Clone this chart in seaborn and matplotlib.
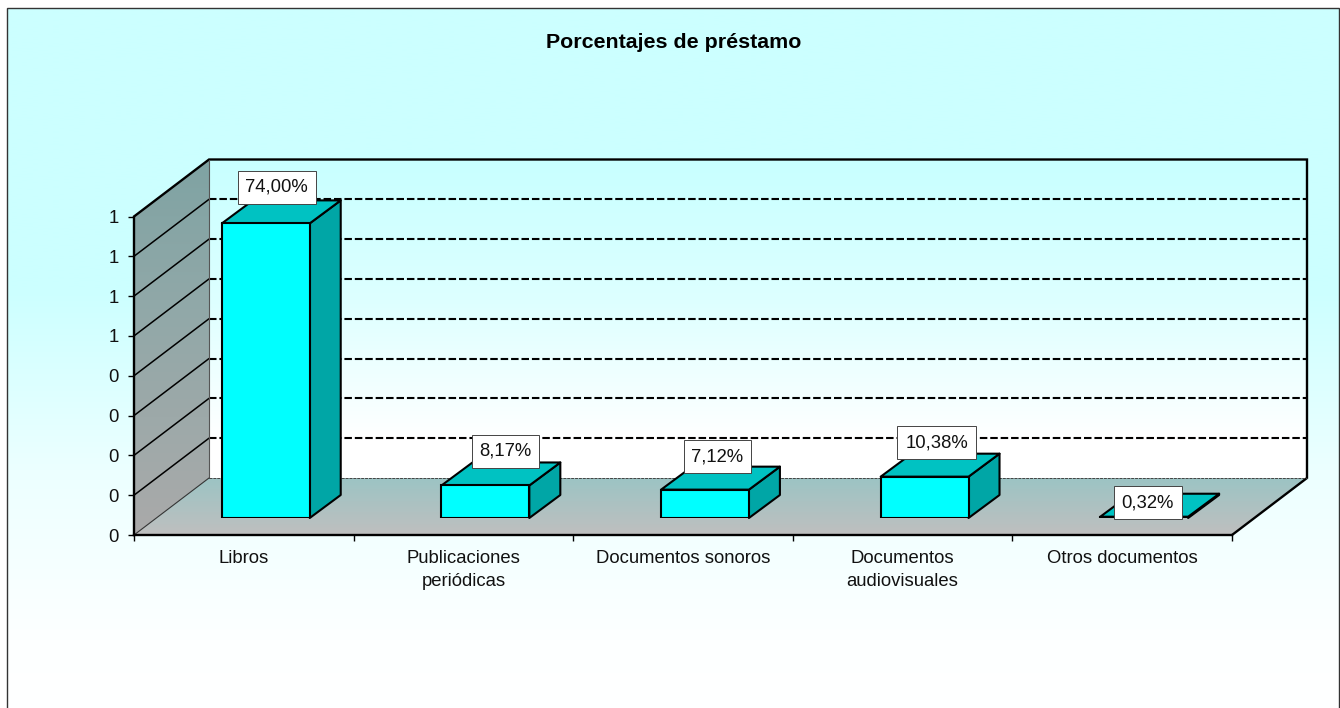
import numpy as np
import pandas as pd
import matplotlib.pyplot as plt
from matplotlib.colors import LinearSegmentedColormap
from matplotlib.patches import Polygon, Rectangle
import seaborn as sns

categories = ["Libros", "Publicaciones\nperiódicas", "Documentos sonoros",
              "Documentos\naudiovisuales", "Otros documentos"]
values = [0.74, 0.0817, 0.0712, 0.1038, 0.0032]
value_labels = ["74,00%", "8,17%", "7,12%", "10,38%", "0,32%"]
y_ticks = [0, 0.1, 0.2, 0.3, 0.4, 0.5, 0.6, 0.7, 0.8]
y_tick_labels = ["0", "0", "0", "0", "0", "1", "1", "1", "1"]
title = "Porcentajes de préstamo"

W, H = 1340, 708
# offsets of the fake 3d, in pixels
wall_dx, wall_dy = 75, 57
bar_dx, bar_dy = 22, 17
depth_dx, depth_dy = 31, 23
label_offsets = [(11, 36), (20, 34), (12.5, 33), (12, 34), (3.5, 14)]

sns.set_style("white")
plt.rcParams['font.family'] = ['Liberation Sans', 'DejaVu Sans']
plt.rcParams['font.size'] = 13.3


def gradient(axis, stops, extent, clip=None):
    # vertical gradient, stops are (pixel from top, colour)
    top, bottom = extent[3], extent[2]
    pos = [float(np.clip((top - (H - s[0])) / (top - bottom), 0, 1)) for s in stops]
    pos[0], pos[-1] = 0.0, 1.0
    cmap = LinearSegmentedColormap.from_list("g", list(zip(pos, [s[1] for s in stops])))
    im = axis.imshow(np.linspace(0, 1, 256).reshape(-1, 1), cmap=cmap, aspect='auto',
                     extent=extent, origin='upper', zorder=1, interpolation='bilinear')
    if clip is not None:
        im.set_clip_path(clip)
    return im


fig = plt.figure(figsize=(W / 100, H / 100), dpi=100, facecolor='white')

# pixel canvas for the panel and the walls, y goes up
bg = fig.add_axes([0, 0, 1, 1])
bg.set_xlim(0, W)
bg.set_ylim(0, H)
bg.axis('off')

# front plane holds the axis, the bars sit further back
ax = fig.add_axes([134 / W, (H - 535) / H, 1098 / W, 318.5 / H], facecolor='none')
ax_bars = fig.add_axes([(134 + bar_dx) / W, (H - 535 + bar_dy) / H, 1098 / W, 318.5 / H],
                       facecolor='none')

df = pd.DataFrame({"categoria": categories, "valor": values})
sns.barplot(data=df, x="categoria", y="valor", ax=ax_bars, color="#00FFFF", saturation=1,
            width=0.4, edgecolor="black", linewidth=1.5, zorder=3)

for a in (ax, ax_bars):
    a.set_xlim(-0.5, len(categories) - 0.5)
    a.set_ylim(0, 0.8)
ax_bars.axis('off')

ax.set_yticks(y_ticks)
ax.set_yticklabels(y_tick_labels, color='#111111')
ax.set_xticks(np.arange(len(categories) + 1) - 0.5)
ax.set_xticklabels([])
ax.set_xticks(np.arange(len(categories)), minor=True)
ax.set_xticklabels(categories, minor=True, linespacing=1.42, color='#111111')
ax.tick_params(axis='y', length=4, width=1, color='black', pad=7, left=True)
ax.tick_params(axis='x', which='major', length=4, width=1, color='black', bottom=True)
ax.tick_params(axis='x', which='minor', length=0, pad=11)
for s in ('top', 'right'):
    ax.spines[s].set_visible(False)
for s in ('left', 'bottom'):
    ax.spines[s].set_linewidth(1.7)
    ax.spines[s].set_color('black')

to_px = ax.transData.transform
x0, y0 = to_px((-0.5, 0))
x1, y1 = to_px((len(categories) - 0.5, 0))
_, y_top = to_px((-0.5, y_ticks[-1]))

# panel
panel = Rectangle((7, -2), W - 8, H - 6, fc='none', ec='#333333', lw=1, zorder=5)
bg.add_patch(panel)
gradient(bg, [(8, "#CCFFFF"), (290, "#CCFFFF"), (470, "#ECFFFF"), (640, "#FDFFFF"), (708, "#FFFFFF")],
         (7, W - 1, 0, H - 8))

# back wall
gradient(bg, [(160, "#C8FFFF"), (300, "#DDFFFF"), (440, "#FFFFFF"), (478, "#FFFFFF")],
         (x0 + wall_dx, x1 + wall_dx, y0 + wall_dy, y_top + wall_dy))

# left wall
left_wall = Polygon([(x0, y0), (x0 + wall_dx, y0 + wall_dy), (x0 + wall_dx, y_top + wall_dy), (x0, y_top)],
                    fc='none', ec='none', transform=bg.transData)
bg.add_patch(left_wall)
gradient(bg, [(160, "#7FA3A3"), (300, "#90A8A8"), (535, "#AAAAAA")],
         (x0, x0 + wall_dx, y0, y_top + wall_dy), clip=left_wall)

# floor
floor = Polygon([(x0, y0), (x1, y1), (x1 + wall_dx, y1 + wall_dy), (x0 + wall_dx, y0 + wall_dy)],
                fc='none', ec='none', transform=bg.transData)
bg.add_patch(floor)
gradient(bg, [(478, "#9CC4C4"), (535, "#BFBFBF")],
         (x0, x1 + wall_dx, y0, y0 + wall_dy), clip=floor)

bg.set_xlim(0, W)
bg.set_ylim(0, H)

# grid: dashed on the back wall, solid on the left one
for t in y_ticks[1:-1]:
    _, y = to_px((-0.5, t))
    bg.plot([x0, x0 + wall_dx], [y, y + wall_dy], color='black', lw=1.1, zorder=4)
    bg.plot([x0 + wall_dx, x1 + wall_dx], [y + wall_dy, y + wall_dy], color='black', lw=1.5,
            dashes=(3.6, 1.4), zorder=4)

# wall outlines
bg.plot([x0, x0 + wall_dx, x1 + wall_dx, x1 + wall_dx, x1],
        [y_top, y_top + wall_dy, y_top + wall_dy, y0 + wall_dy, y0],
        color='black', lw=1.7, zorder=4, solid_joinstyle='miter')
bg.plot([x0 + wall_dx, x0 + wall_dx], [y_top + wall_dy, y0 + wall_dy], color='#555555', lw=0.8, zorder=4)
bg.plot([x0, x0 + wall_dx], [y0, y0 + wall_dy], color='#333333', lw=0.8, zorder=4)
bg.plot([x0 + wall_dx, x1 + wall_dx], [y0 + wall_dy, y0 + wall_dy], color='#444444', lw=0.7,
        dashes=(3, 1), zorder=4)

# side and top of every bar
for bar, text, off in zip(ax_bars.patches, value_labels, label_offsets):
    (bx0, by0), (bx1, by1) = ax_bars.transData.transform(
        [(bar.get_x(), 0), (bar.get_x() + bar.get_width(), bar.get_height())])
    side = [(bx1, by0), (bx1 + depth_dx, by0 + depth_dy), (bx1 + depth_dx, by1 + depth_dy), (bx1, by1)]
    lid = [(bx0, by1), (bx1, by1), (bx1 + depth_dx, by1 + depth_dy), (bx0 + depth_dx, by1 + depth_dy)]
    bg.add_patch(Polygon(side, fc="#00A6A6", ec='black', lw=1.5, zorder=6, joinstyle='round'))
    bg.add_patch(Polygon(lid, fc="#00C2C2", ec='black', lw=1.5, zorder=6, joinstyle='round'))
    ax_bars.annotate(text, (bar.get_x() + bar.get_width() / 2, bar.get_height()),
                     xytext=off, textcoords='offset pixels', ha='center', va='center',
                     color='#111111', zorder=8, annotation_clip=False,
                     bbox=dict(boxstyle='square,pad=0.42', fc='white', ec='#444444', lw=0.7))

fig.text(674 / W, (H - 42) / H, title, ha='center', va='center', fontweight='bold',
         fontsize=15.4, color='black')

fig.savefig("out.png", dpi=100)
